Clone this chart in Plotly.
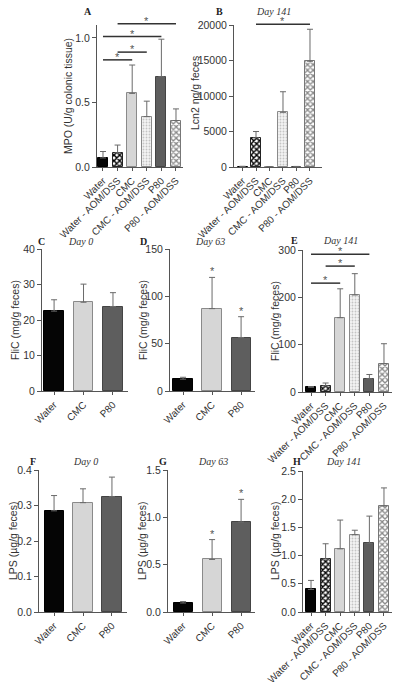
import plotly.graph_objects as go

# ---------------- data ----------------
groups6 = ["Water", "Water - AOM/DSS", "CMC", "CMC - AOM/DSS", "P80", "P80 - AOM/DSS"]
groups3 = ["Water", "CMC", "P80"]

mpo_mean = [0.07, 0.11, 0.57, 0.39, 0.70, 0.36]
mpo_err = [0.05, 0.06, 0.22, 0.12, 0.29, 0.09]

lcn2_mean = [60, 4100, 30, 7700, 50, 14900]
lcn2_err = [40, 900, 20, 2900, 30, 4500]

flic_d0_mean = [22.5, 25.0, 23.8]
flic_d0_err = [3.2, 5.1, 3.9]

flic_d63_mean = [12.5, 87, 56.5]
flic_d63_err = [2.0, 33, 22]

flic_d141_mean = [10, 13, 157, 205, 28, 60]
flic_d141_err = [1.5, 6, 61, 45, 9, 42]

lps_d0_mean = [0.285, 0.308, 0.325]
lps_d0_err = [0.043, 0.039, 0.055]

lps_d63_mean = [0.095, 0.555, 0.95]
lps_d63_err = [0.015, 0.21, 0.24]

lps_d141_mean = [0.40, 0.94, 1.12, 1.37, 1.22, 1.88]
lps_d141_err = [0.16, 0.27, 0.51, 0.08, 0.48, 0.32]

# significance brackets: (from index, to index, height)
sig_A = [(0, 2, 0.83), (1, 3, 0.89), (0, 4, 1.01), (1, 5, 1.11)]
sig_B = [(1, 5, 20100)]
sig_E = [(0, 2, 230), (1, 3, 266), (0, 4, 291)]
star_D = [1, 2]
star_G = [1, 2]

# ---------------- styling ----------------
W, H = 400, 682
FONT = "Liberation Sans, Arial, sans-serif"
SERIF = "Liberation Serif, Times New Roman, serif"
FS = 10.5
FSX = 10

style = {
    "Water": dict(color="#050505", line="#000000", pattern=None),
    "Water - AOM/DSS": dict(color="#ffffff", line="#222222",
                            pattern=dict(shape="x", fgcolor="#000000", bgcolor="#ffffff", size=4, solidity=0.6)),
    "CMC": dict(color="#d6d6d6", line="#8a8a8a", pattern=None),
    "CMC - AOM/DSS": dict(color="#f2f2f2", line="#8a8a8a",
                          pattern=dict(shape=".", fgcolor="#c4c4c4", bgcolor="#f4f4f4", size=3, solidity=0.3)),
    "P80": dict(color="#5e5e5e", line="#444444", pattern=None),
    "P80 - AOM/DSS": dict(color="#ffffff", line="#777777",
                          pattern=dict(shape="x", fgcolor="#888888", bgcolor="#ffffff", size=4, solidity=0.55)),
}

panels = [
    dict(label="A", day=None, groups=groups6, mean=mpo_mean, err=mpo_err,
         xpx=(97, 183), ypx=(25, 167), xr=(-0.41, 5.48), yr=(0, 1.1),
         tickvals=[0, 0.5, 1.0], fmt=".1f", title="MPO (U/g colonic tissue)",
         tpos=(68, 96), lpos=(88, 12), dpos=None, sig=sig_A, stars=[]),
    dict(label="B", day="Day 141", groups=groups6, mean=lcn2_mean, err=lcn2_err,
         xpx=(234, 322), ypx=(25, 167), xr=(-0.63, 5.89), yr=(0, 20000),
         tickvals=[0, 5000, 10000, 15000, 20000], fmt="d", title="Lcn2 ng/g feces",
         tpos=(195, 93), lpos=(219, 12), dpos=(273, 12), sig=sig_B, stars=[]),
    dict(label="C", day="Day 0", groups=groups3, mean=flic_d0_mean, err=flic_d0_err,
         xpx=(42, 128), ypx=(249, 391), xr=(-0.41, 2.51), yr=(0, 40),
         tickvals=[0, 10, 20, 30, 40], fmt="d", title="FliC (mg/g feces)",
         tpos=(15, 320), lpos=(41, 241), dpos=(80, 241), sig=[], stars=[]),
    dict(label="D", day="Day 63", groups=groups3, mean=flic_d63_mean, err=flic_d63_err,
         xpx=(170, 255), ypx=(249, 391), xr=(-0.45, 2.48), yr=(0, 150),
         tickvals=[0, 50, 100, 150], fmt="d", title="FliC (mg/g feces)",
         tpos=(143, 320), lpos=(143, 241), dpos=(210, 241), sig=[], stars=star_D),
    dict(label="E", day="Day 141", groups=groups6, mean=flic_d141_mean, err=flic_d141_err,
         xpx=(303, 392), ypx=(250, 392), xr=(-0.55, 5.55), yr=(0, 300),
         tickvals=[0, 100, 200, 300], fmt="d", title="FliC (mg/g feces)",
         tpos=(275, 321), lpos=(294, 240), dpos=(340, 240), sig=sig_E, stars=[]),
    dict(label="F", day="Day 0", groups=groups3, mean=lps_d0_mean, err=lps_d0_err,
         xpx=(39, 127), ypx=(470, 612), xr=(-0.52, 2.52), yr=(0, 0.4),
         tickvals=[0, 0.1, 0.2, 0.3, 0.4], fmt=".1f", title="LPS (µg/g feces)",
         tpos=(13, 541), lpos=(33, 462), dpos=(85, 462), sig=[], stars=[]),
    dict(label="G", day="Day 63", groups=groups3, mean=lps_d63_mean, err=lps_d63_err,
         xpx=(168, 255), ypx=(470, 612), xr=(-0.52, 2.48), yr=(0, 1.5),
         tickvals=[0, 0.5, 1.0, 1.5], fmt=".1f", title="LPS (µg/g feces)",
         tpos=(142, 541), lpos=(163, 462), dpos=(213, 462), sig=[], stars=star_G),
    dict(label="H", day="Day 141", groups=groups6, mean=lps_d141_mean, err=lps_d141_err,
         xpx=(303, 392), ypx=(471, 612), xr=(-0.55, 5.55), yr=(0, 2.5),
         tickvals=[0, 0.5, 1.0, 1.5, 2.0, 2.5], fmt=".1f", title="LPS (µg/g feces)",
         tpos=(275, 541), lpos=(297, 462), dpos=(343, 462), sig=[], stars=[]),
]


def px_x(p, xv):
    x0, x1 = p["xpx"]
    r0, r1 = p["xr"]
    return (x0 + (xv - r0) / (r1 - r0) * (x1 - x0)) / W


def px_y(p, yv):
    top, bot = p["ypx"]
    r0, r1 = p["yr"]
    pix = bot - (yv - r0) / (r1 - r0) * (bot - top)
    return 1 - pix / H


fig = go.Figure()
layout = dict(template="none", width=W, height=H, margin=dict(l=0, r=0, t=0, b=0),
              paper_bgcolor="white", plot_bgcolor="white", showlegend=False,
              font=dict(family=FONT, size=FS, color="#333333"))
shapes, annotations = [], []

for i, p in enumerate(panels, start=1):
    xa = "x" if i == 1 else f"x{i}"
    ya = "y" if i == 1 else f"y{i}"
    n = len(p["groups"])
    bw = 0.68 if n == 6 else 0.66
    if p["label"] == "B":
        bw = 0.74
    for g, m, e in zip(p["groups"], p["mean"], p["err"]):
        s = style[g]
        marker = dict(color=s["color"], line=dict(color=s["line"], width=1))
        if s["pattern"]:
            marker["pattern"] = s["pattern"]
        fig.add_trace(go.Bar(
            x=[g], y=[m], width=bw, xaxis=xa, yaxis=ya, marker=marker,
            error_y=dict(type="data", array=[e], arrayminus=[0], symmetric=False,
                         color="#6a6a6a", thickness=1, width=3),
            showlegend=False, hoverinfo="skip"))

    xk = "xaxis" if i == 1 else f"xaxis{i}"
    yk = "yaxis" if i == 1 else f"yaxis{i}"
    layout[xk] = dict(domain=[p["xpx"][0] / W, p["xpx"][1] / W], anchor=ya,
                      type="category", categoryorder="array", categoryarray=p["groups"],
                      range=list(p["xr"]), showline=True, linecolor="#555555", linewidth=1,
                      ticks="outside", ticklen=3, tickcolor="#555555", tickangle=-45,
                      showgrid=False, zeroline=False, fixedrange=True, automargin=False,
                      tickfont=dict(family=FONT, size=FSX, color="#333333"))
    layout[yk] = dict(domain=[1 - p["ypx"][1] / H, 1 - p["ypx"][0] / H], anchor=xa,
                      range=list(p["yr"]), tickvals=p["tickvals"], tickformat=p["fmt"],
                      showline=True, linecolor="#555555", linewidth=1,
                      ticks="outside", ticklen=4, tickcolor="#555555",
                      showgrid=False, zeroline=False, fixedrange=True, automargin=False,
                      tickfont=dict(family=FONT, size=FS, color="#333333"))

    annotations.append(dict(text=p["title"], x=p["tpos"][0] / W, y=1 - p["tpos"][1] / H,
                            xref="paper", yref="paper", showarrow=False, textangle=-90,
                            xanchor="center", yanchor="middle",
                            font=dict(family=FONT, size=FS, color="#333333")))
    annotations.append(dict(text=f"<b>{p['label']}</b>", x=p["lpos"][0] / W, y=1 - p["lpos"][1] / H,
                            xref="paper", yref="paper", showarrow=False,
                            xanchor="center", yanchor="middle",
                            font=dict(family=SERIF, size=10, color="#222222")))
    if p["day"]:
        annotations.append(dict(text=f"<i>{p['day']}</i>", x=p["dpos"][0] / W, y=1 - p["dpos"][1] / H,
                                xref="paper", yref="paper", showarrow=False,
                                xanchor="center", yanchor="middle",
                                font=dict(family=SERIF, size=10, color="#333333")))
    for a, b, h in p["sig"]:
        shapes.append(dict(type="line", xref="paper", yref="paper",
                           x0=px_x(p, a), x1=px_x(p, b), y0=px_y(p, h), y1=px_y(p, h),
                           line=dict(color="#333333", width=1.5)))
        annotations.append(dict(text="*", x=(px_x(p, a) + px_x(p, b)) / 2, y=px_y(p, h),
                                xref="paper", yref="paper", showarrow=False,
                                xanchor="center", yanchor="bottom", yshift=-5,
                                font=dict(family=FONT, size=11, color="#555555")))
    for k in p["stars"]:
        top = p["mean"][k] + p["err"][k]
        annotations.append(dict(text="*", x=px_x(p, k), y=px_y(p, top),
                                xref="paper", yref="paper", showarrow=False,
                                xanchor="center", yanchor="bottom", yshift=-2,
                                font=dict(family=FONT, size=11, color="#555555")))

layout["shapes"] = shapes
layout["annotations"] = annotations
layout["bargap"] = 0
fig.update_layout(**layout)
fig.write_html("out.html", config={"displayModeBar": False},
               post_script="document.body.style.margin='0';document.body.style.overflow='hidden';")
